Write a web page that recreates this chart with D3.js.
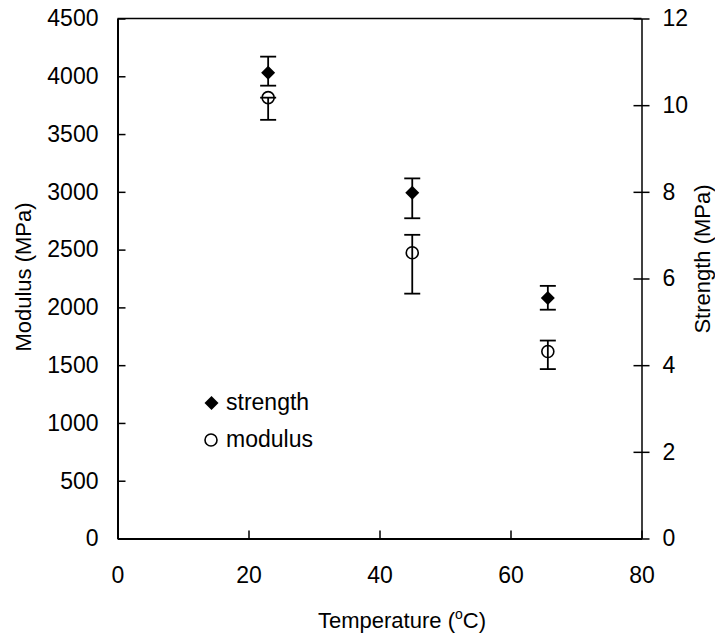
<!DOCTYPE html>
<html>
<head>
<meta charset="utf-8">
<script src="https://cdn.jsdelivr.net/npm/d3@7"></script>
<style>
  html, body { margin: 0; padding: 0; background: #fff; }
  svg { display: block; font-family: "Liberation Sans", Arial, sans-serif; }
  .axis text { font-size: 23px; fill: #000; }
  .axis line, .axis path { stroke: #000; }
</style>
</head>
<body>
<svg id="chart" width="715" height="637"></svg>
<script>
// data
const temps = [23, 45, 65.7];
const strength = [10.75, 7.98, 5.55];
const strengthPlus = [0.37, 0.33, 0.28];
const strengthMinus = [0.30, 0.59, 0.27];
const modulus = [3815, 2473, 1618];
const modulusPlus = [0, 155, 95];
const modulusMinus = [192, 354, 152];

const xTicks = [0, 20, 40, 60, 80];
const leftTicks = [0, 500, 1000, 1500, 2000, 2500, 3000, 3500, 4000, 4500];
const rightTicks = [0, 2, 4, 6, 8, 10, 12];

const svg = d3.select("#chart");
const plotL = 117.5, plotR = 641.5, plotT = 18.5, plotB = 538.5;

const x = d3.scaleLinear().domain([0, 80]).range([plotL, plotR]);
const yL = d3.scaleLinear().domain([0, 4500]).range([plotB, plotT]);
const yR = d3.scaleLinear().domain([0, 12]).range([plotB, plotT]);
const fmt = d3.format("d");

// top border of the plot box
svg.append("line")
  .attr("x1", plotL).attr("x2", plotR).attr("y1", plotT).attr("y2", plotT)
  .attr("stroke", "#000").attr("stroke-width", 1.5);

// axes
svg.append("g").attr("class", "axis")
  .attr("transform", `translate(${plotL},0)`)
  .call(d3.axisLeft(yL).tickValues(leftTicks).tickFormat(fmt).tickSizeInner(-8).tickSizeOuter(0).tickPadding(19))
  .call(g => g.select(".domain").attr("stroke-width", 2))
  .call(g => g.selectAll(".tick line").attr("stroke-width", 1.5));

svg.append("g").attr("class", "axis")
  .attr("transform", `translate(0,${plotB})`)
  .call(d3.axisBottom(x).tickValues(xTicks).tickFormat(fmt).tickSizeInner(-8).tickSizeOuter(0).tickPadding(28))
  .call(g => g.select(".domain").attr("stroke-width", 2))
  .call(g => g.selectAll(".tick line").attr("stroke-width", 1.5));

svg.append("g").attr("class", "axis")
  .attr("transform", `translate(${plotR},0)`)
  .call(d3.axisRight(yR).tickValues(rightTicks).tickFormat(fmt).tickSizeInner(8).tickSizeOuter(0).tickPadding(13))
  .call(g => g.select(".domain").attr("stroke-width", 1.5))
  .call(g => g.selectAll(".tick line").attr("x1", -8).attr("stroke-width", 1.5));

// axis titles
svg.append("text")
  .attr("transform", `translate(31,277) rotate(-90)`)
  .attr("text-anchor", "middle").attr("font-size", 22)
  .text("Modulus (MPa)");

svg.append("text")
  .attr("transform", `translate(710,259) rotate(-90)`)
  .attr("text-anchor", "middle").attr("font-size", 22)
  .text("Strength (MPa)");

const xt = svg.append("text")
  .attr("x", 402).attr("y", 628)
  .attr("text-anchor", "middle").attr("font-size", 22);
xt.append("tspan").text("Temperature (");
xt.append("tspan").attr("font-size", 14).attr("dy", -9).text("o");
xt.append("tspan").attr("dy", 9).text("C)");

// error bars
function errorBars(vals, plus, minus, y) {
  const g = svg.append("g").attr("stroke", "#000").attr("stroke-width", 1.8);
  temps.forEach((t, i) => {
    const cx = x(t);
    const hi = y(vals[i] + plus[i]), lo = y(vals[i] - minus[i]);
    g.append("line").attr("x1", cx).attr("x2", cx).attr("y1", hi).attr("y2", lo);
    g.append("line").attr("x1", cx - 8).attr("x2", cx + 8).attr("y1", hi).attr("y2", hi);
    g.append("line").attr("x1", cx - 8).attr("x2", cx + 8).attr("y1", lo).attr("y2", lo);
  });
}
errorBars(modulus, modulusPlus, modulusMinus, yL);
errorBars(strength, strengthPlus, strengthMinus, yR);

const diamond = "M0,-7L7,0L0,7L-7,0Z";

// modulus points (open circles)
svg.append("g").selectAll("circle")
  .data(temps)
  .join("circle")
  .attr("cx", d => x(d))
  .attr("cy", (d, i) => yL(modulus[i]))
  .attr("r", 6)
  .attr("fill", "none")
  .attr("stroke", "#000").attr("stroke-width", 1.6);

// strength points (filled diamonds)
svg.append("g").selectAll("path")
  .data(temps)
  .join("path")
  .attr("d", diamond)
  .attr("transform", (d, i) => `translate(${x(d)},${yR(strength[i])})`)
  .attr("fill", "#000");

// legend
const lg = svg.append("g");
lg.append("path").attr("d", diamond).attr("transform", "translate(211.5,403)").attr("fill", "#000");
lg.append("text").attr("x", 226).attr("y", 410).attr("font-size", 23).text("strength");
lg.append("circle").attr("cx", 211).attr("cy", 440).attr("r", 6)
  .attr("fill", "none").attr("stroke", "#000").attr("stroke-width", 1.6);
lg.append("text").attr("x", 226).attr("y", 447).attr("font-size", 23).text("modulus");
</script>
</body>
</html>
